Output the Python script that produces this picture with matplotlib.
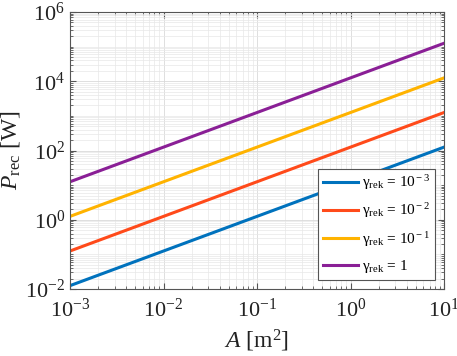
import numpy as np
import matplotlib.pyplot as plt
from matplotlib.ticker import LogLocator, NullFormatter, FuncFormatter

# Received power for different gamma values at the two ends
area = [1e-3, 1e1]                       # A [m^2]
p_rec = {
    "1e-3": [1.25e-2, 1.25e2],
    "1e-2": [1.25e-1, 1.25e3],
    "1e-1": [1.25e0, 1.25e4],
    "1": [1.25e1, 1.25e5],
}
labels = [r"γ$_{\rm rek}$ = 10$^{\rm -3}$",
          r"γ$_{\rm rek}$ = 10$^{\rm -2}$",
          r"γ$_{\rm rek}$ = 10$^{\rm -1}$",
          r"γ$_{\rm rek}$ = 1"]
colors = ["#0072BD", "#FF4A1A", "#FFB300", "#8A1F96"]

plt.rcParams["font.family"] = ["Liberation Serif", "DejaVu Serif"]
plt.rcParams["mathtext.fontset"] = "custom"
plt.rcParams["mathtext.rm"] = "Liberation Serif"
plt.rcParams["mathtext.it"] = "Liberation Serif:italic"
plt.rcParams["mathtext.default"] = "rm"


def pow10(v, pos):
    return "10$^{%d}$" % int(round(np.log10(v)))


fig = plt.figure(figsize=(4.57, 3.56), dpi=100)
ax = fig.add_axes([70 / 457, 1 - 289 / 356, 374 / 457, 277 / 356])

for (key, vals), lab, col in zip(p_rec.items(), labels, colors):
    ax.plot(area, vals, color=col, linewidth=2.2, label=lab)

ax.set_xscale("log")
ax.set_yscale("log")
ax.set_xlim(1e-3, 1e1)
ax.set_ylim(1e-2, 1e6)
ax.set_yticks([1e-2, 1e0, 1e2, 1e4, 1e6])
ax.set_xticks([1e-3, 1e-2, 1e-1, 1e0, 1e1])
ax.xaxis.set_major_formatter(FuncFormatter(pow10))
ax.yaxis.set_major_formatter(FuncFormatter(pow10))
ax.xaxis.set_minor_locator(LogLocator(base=10, subs=np.arange(2, 10), numticks=20))
ax.yaxis.set_minor_locator(LogLocator(base=10, subs=np.arange(1, 10), numticks=40))
ax.yaxis.set_minor_formatter(NullFormatter())
ax.xaxis.set_minor_formatter(NullFormatter())

ax.grid(True, which="major", color="#d9d9d9", linewidth=0.6)
ax.grid(True, which="minor", color="#e8e8e8", linewidth=0.5)
ax.set_axisbelow(True)
for s in ax.spines.values():
    s.set_color("#555555")
    s.set_linewidth(0.8)
ax.tick_params(which="both", direction="in", top=True, right=True, colors="#555555",
               labelcolor="#222222", labelsize=16)
ax.tick_params(which="major", length=4)
ax.tick_params(which="minor", length=2)
ax.tick_params(axis="x", pad=7)

ax.set_xlabel(r"$\mathit{A}$ [m$^{\rm 2}$]", fontsize=17, color="#222222", labelpad=4)
ax.set_ylabel(r"$\mathit{P}_{\rm rec}$ [W]", fontsize=17, color="#222222", labelpad=2)

leg = ax.legend(loc="lower right", fontsize=11, frameon=True, fancybox=False,
                edgecolor="#555555", framealpha=1, handlelength=2.3,
                borderpad=0.3, labelspacing=0.62, handletextpad=0.25,
                borderaxespad=0, bbox_to_anchor=(0.975, 0.033))
leg.get_frame().set_linewidth(0.8)

fig.savefig("out.png", dpi=100)
